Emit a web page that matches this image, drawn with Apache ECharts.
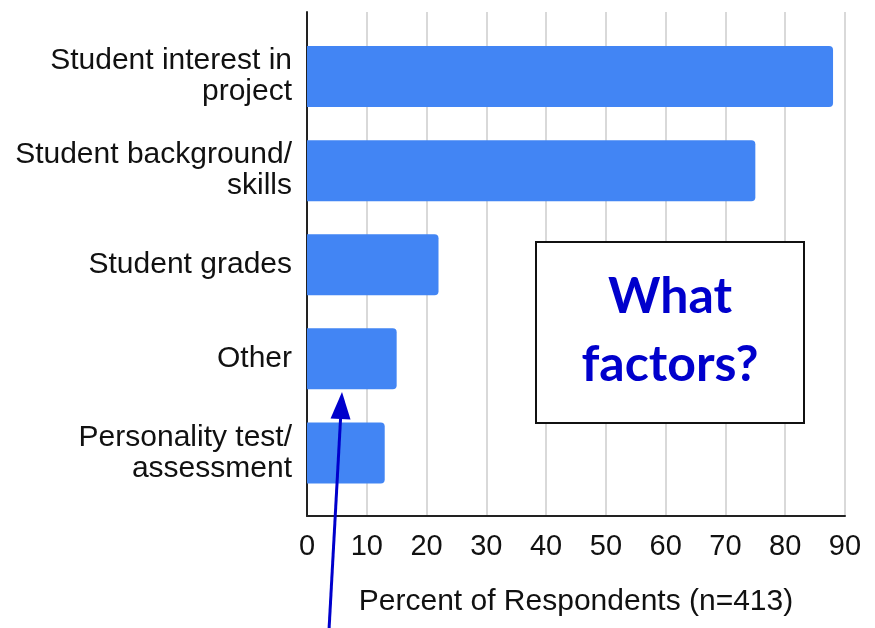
<!DOCTYPE html>
<html>
<head>
<meta charset="utf-8">
<script src="https://cdn.jsdelivr.net/npm/echarts@6/dist/echarts.min.js"></script>
<style>
  html, body { margin: 0; padding: 0; background: #fff; }
  #chart { width: 875px; height: 628px; }
</style>
</head>
<body>
<div id="chart"></div>
<script>
// Survey: factors used when assigning students to projects
const categories = [
  'Student interest in\nproject',
  'Student background/\nskills',
  'Student grades',
  'Other',
  'Personality test/\nassessment'
];
const percentValues = [88, 75, 22, 15, 13];
const percentTicks = [0, 10, 20, 30, 40, 50, 60, 70, 80, 90];
const axisTitle = 'Percent of Respondents (n=413)';
const calloutText = 'What\nfactors?';

const chart = echarts.init(document.getElementById('chart'), null, { renderer: 'canvas' });

const labelFont = 'Liberation Sans, Arial, sans-serif';
const xMin = percentTicks[0];
const xMax = percentTicks[percentTicks.length - 1];

// arrow pointing up at the "Other" bar
const arrowTail = [329, 630];
const arrowTip = [342, 392];
const ang = Math.atan2(arrowTip[1] - arrowTail[1], arrowTip[0] - arrowTail[0]);
const headLen = 27, headHalf = 10;
const baseX = arrowTip[0] - headLen * Math.cos(ang);
const baseY = arrowTip[1] - headLen * Math.sin(ang);
const px = -Math.sin(ang), py = Math.cos(ang);

chart.setOption({
  backgroundColor: '#ffffff',
  animation: false,
  // grid 0: frame, gridlines and ticks; grid 1: the category rows and bars
  grid: [
    { left: 307, right: 30, top: 12, bottom: 112, containLabel: false },
    { left: 307, right: 30, top: 29.5, bottom: 128, containLabel: false }
  ],
  xAxis: [
    {
      gridIndex: 0,
      type: 'value',
      min: xMin,
      max: xMax,
      interval: 10,
      name: axisTitle,
      nameLocation: 'middle',
      nameGap: 71,
      nameTextStyle: { fontFamily: labelFont, fontSize: 30, color: '#111' },
      axisLine: { show: true, lineStyle: { color: '#222', width: 2 } },
      axisTick: { show: false },
      axisLabel: { fontFamily: labelFont, fontSize: 29, color: '#111', margin: 16 },
      splitLine: { show: true, lineStyle: { color: '#cccccc', width: 1.5 } }
    },
    {
      gridIndex: 1,
      type: 'value',
      min: xMin,
      max: xMax,
      interval: 10,
      show: false,
      splitLine: { show: false }
    }
  ],
  yAxis: [
    {
      gridIndex: 0,
      type: 'value',
      min: 0,
      max: 1,
      axisLine: { show: true, onZero: false, lineStyle: { color: '#222', width: 2 } },
      axisTick: { show: false },
      axisLabel: { show: false },
      splitLine: { show: false }
    },
    {
      gridIndex: 1,
      type: 'category',
      inverse: true,
      data: categories,
      axisLine: { show: false },
      axisTick: { show: false },
      splitLine: { show: false },
      axisLabel: {
        fontFamily: labelFont,
        fontSize: 30,
        lineHeight: 31,
        color: '#111',
        align: 'right',
        margin: 15
      }
    }
  ],
  series: [{
    type: 'bar',
    xAxisIndex: 1,
    yAxisIndex: 1,
    data: percentValues,
    barWidth: 61,
    itemStyle: { color: '#4285f4', borderRadius: [0, 4, 4, 0] },
    silent: true
  }],
  graphic: [
    {
      type: 'group',
      left: 535,
      top: 241,
      z: 100,
      children: [
        {
          type: 'rect',
          z: 100,
          shape: { x: 0, y: 0, width: 268, height: 181 },
          style: { fill: '#ffffff', stroke: '#111', lineWidth: 2 }
        },
        {
          type: 'text',
          z: 101,
          x: 134,
          y: 89,
          style: {
            text: calloutText,
            fill: '#0000cc',
            font: 'bold 50px Lato, "Noto Sans", sans-serif',
            lineHeight: 68,
            align: 'center',
            verticalAlign: 'middle'
          }
        }
      ]
    },
    {
      type: 'line',
      shape: { x1: arrowTail[0], y1: arrowTail[1], x2: baseX, y2: baseY },
      style: { stroke: '#0000cc', lineWidth: 3 },
      z: 100
    },
    {
      type: 'polygon',
      shape: {
        points: [
          arrowTip,
          [baseX + px * headHalf, baseY + py * headHalf],
          [baseX - px * headHalf, baseY - py * headHalf]
        ]
      },
      style: { fill: '#0000cc' },
      z: 100
    }
  ]
});
</script>
</body>
</html>
